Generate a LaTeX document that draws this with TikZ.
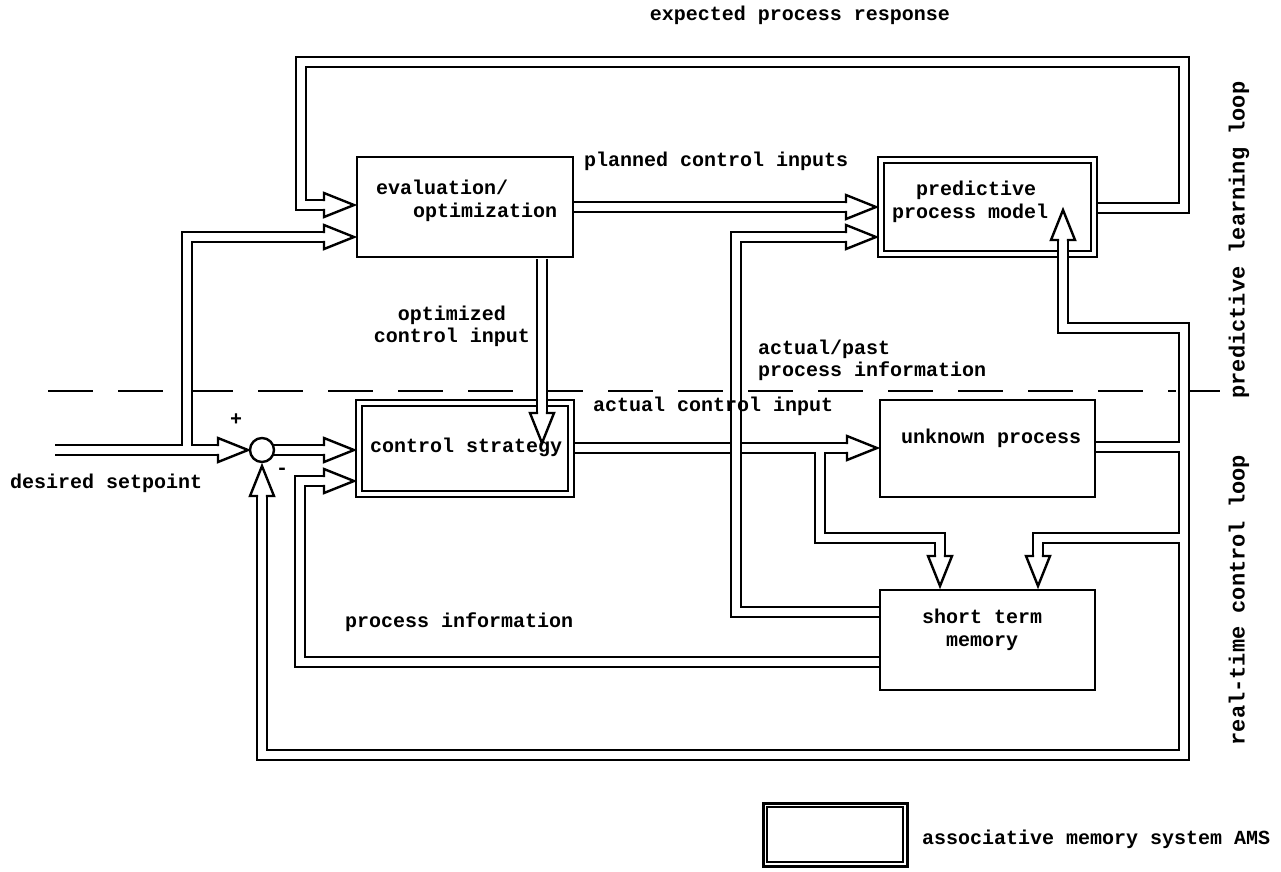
\documentclass[tikz,border=0pt]{standalone}
\usepackage{fontspec}
\setmainfont{Liberation Mono}
\begin{document}
\begin{tikzpicture}[x=1pt,y=-1pt,
  every node/.style={inner sep=0pt,outer sep=0pt},
  lbl/.style={font=\fontsize{20}{23}\selectfont\bfseries},
  rlbl/.style={font=\fontsize{22}{25}\selectfont\bfseries},
  box/.style={draw,line width=2.4pt,rectangle},
  ln/.style={line width=2.4pt},
  pipeA/.style={draw=black,line width=12.4pt,line join=miter},
  pipeB/.style={draw=white,line width=7.6pt,line join=miter},
  dpipe/.style={draw=black,line width=2.4pt,double=white,double distance=7.6pt,line join=miter},
  ahead/.pic={\draw[line width=2.4pt,fill=white,line join=miter] (-30,-3.8) -- (-30,-12) -- (0,0) -- (-30,12) -- (-30,3.8);},
]
\useasboundingbox (0,0) rectangle (1281,871);

% boxes (named, drawn later on top of pipes)
\path (465,207) node[minimum width=216pt,minimum height=100pt] (eval) {};
\path (987.5,207) node[minimum width=219pt,minimum height=100pt] (pred) {};
\path (465,448.5) node[minimum width=218pt,minimum height=97pt] (ctrl) {};
\path (987.5,448.5) node[minimum width=215pt,minimum height=97pt] (unk) {};
\path (987.5,640) node[minimum width=215pt,minimum height=100pt] (stm) {};
\path (262,450) node[circle,minimum size=24pt] (sum) {};

% separator
\draw[ln,dash pattern=on 45pt off 25pt] (48,391) -- (1176,391);
\draw[ln] (1184,391) -- (1220,391);

% pipes: two passes so that junctions merge
\newcommand\mypipes[1]{%
 \path[#1] (pred.east |- 0,208) -| (1184,62) -| (301,205) -- (324,205);
 \path[#1] (eval.east |- 0,207) -- (846,207);
 \path[#1] (55,450) -- (218,450);
 \path[#1] (187,450) |- (324,237);
 \path[#1] (sum.east) -- (324,450);
 \path[#1] (stm.west |- 0,662) -| (300,481) -- (324,481);
 \path[#1] (1063,258) |- (1184,328) |- (262,755) -- (262,496);
 \path[#1] (unk.east |- 0,447) -- (1184,447);
 \path[#1] (1184,538) -| (1038,556);
 \path[#1] (ctrl.east |- 0,448) -- (847,448);
 \path[#1] (820,448) |- (940,538) -- (940,556);
}
\mypipes{pipeA}
\mypipes{pipeB}

% boxes
\draw[ln] (eval.north west) rectangle (eval.south east);
\draw[ln] (pred.north west) rectangle (pred.south east);
\draw[ln] ([shift={(6,6)}]pred.north west) rectangle ([shift={(-6,-6)}]pred.south east);
\draw[ln] (ctrl.north west) rectangle (ctrl.south east);
\draw[ln] ([shift={(6,6)}]ctrl.north west) rectangle ([shift={(-6,-6)}]ctrl.south east);
\draw[ln] (unk.north west) rectangle (unk.south east);
\draw[ln] (stm.north west) rectangle (stm.south east);
\draw[ln,fill=white] (sum) circle (12);

% pipes crossing others / box borders
\draw[dpipe] (878.8,612) -| (736,237) -- (846,237);
\draw[dpipe] (542,258.5) -- (542,413);
\draw[dpipe] (1063,240) -- (1063,262);

% arrow heads
\pic at (354,205) {ahead};
\pic at (354,237) {ahead};
\pic at (876,207) {ahead};
\pic at (876,237) {ahead};
\pic at (248,450) {ahead};
\pic at (354,450) {ahead};
\pic at (354,481) {ahead};
\pic at (877,448) {ahead};
\pic[rotate=90] at (262,466) {ahead};
\pic[rotate=90] at (1063,210) {ahead};
\pic[rotate=-90] at (542,443) {ahead};
\pic[rotate=-90] at (940,586) {ahead};
\pic[rotate=-90] at (1038,586) {ahead};

% legend
\path (835,834.5) node[minimum width=144pt,minimum height=63pt] (leg) {};
\draw[line width=3pt] (leg.north west) rectangle (leg.south east);
\draw[ln] ([shift={(4,4)}]leg.north west) rectangle ([shift={(-4,-4)}]leg.south east);

% texts
\node[lbl,anchor=mid] (t1) at (800,18) {expected process response};
\node[lbl,anchor=mid west] (t2) at (584,164) {planned control inputs};
\node[lbl,anchor=mid west] (t3) at (376,192) {evaluation/};
\node[lbl,anchor=mid west] (t4) at (413,215) {optimization};
\node[lbl,anchor=mid] (t5) at (976,193) {predictive};
\node[lbl,anchor=mid] (t6) at (970,216) {process model};
\node[lbl,anchor=mid] (t7) at (452,318) {optimized};
\node[lbl,anchor=mid] (t8) at (452,340) {control input};
\node[lbl,anchor=mid west] (t9) at (758,352) {actual/past};
\node[lbl,anchor=mid west] (t10) at (758,374) {process information};
\node[lbl,anchor=mid] (t11) at (236,423) {+};
\node[lbl,anchor=mid] (t12) at (282,472) {-};
\node[lbl,anchor=mid west] (t13) at (10,486) {desired setpoint};
\node[lbl,anchor=mid west] (t14) at (370,450) {control strategy};
\node[lbl,anchor=mid west] (t15) at (593,409) {actual control input};
\node[lbl,anchor=mid west] (t16) at (901,441) {unknown process};
\node[lbl,anchor=mid] (t17) at (982,621) {short term};
\node[lbl,anchor=mid] (t18) at (982,644) {memory};
\node[lbl,anchor=mid west] (t19) at (345,625) {process information};
\node[rlbl,anchor=mid,rotate=90] (t20) at (1242,240) {predictive learning loop};
\node[rlbl,anchor=mid,rotate=90] (t21) at (1242,600) {real-time control loop};
\node[lbl,anchor=mid west] (t22) at (922,842) {associative memory system AMS};
\end{tikzpicture}
\end{document}
